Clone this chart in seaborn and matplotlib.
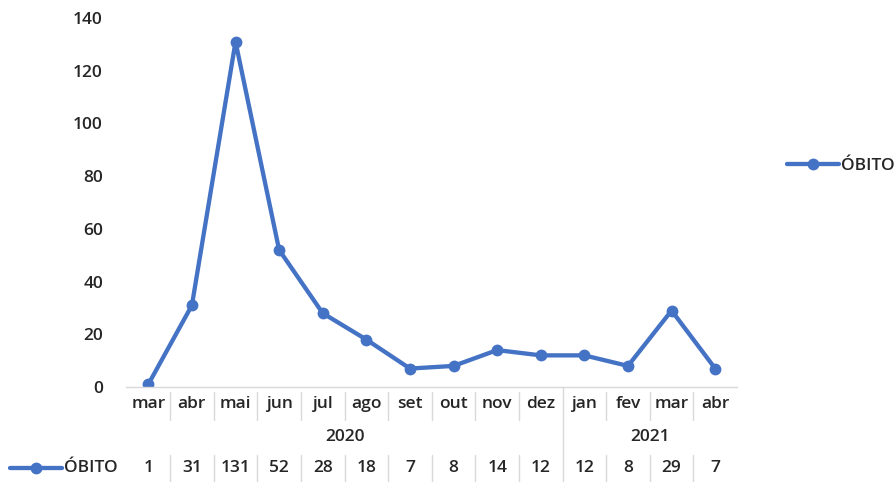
import numpy as np
import pandas as pd
import matplotlib
matplotlib.use("Agg")
import matplotlib.pyplot as plt
import matplotlib.transforms as mtransforms
from matplotlib.lines import Line2D
import seaborn as sns

# data
months = ["mar", "abr", "mai", "jun", "jul", "ago", "set", "out", "nov", "dez",
          "jan", "fev", "mar", "abr"]
years = ["2020", "2021"]
year_counts = [10, 4]
obitos = [1, 31, 131, 52, 28, 18, 7, 8, 14, 12, 12, 8, 29, 7]
series_name = "ÓBITO"

sns.set_theme(style="white")
plt.rcParams["font.family"] = ["Open Sans", "DejaVu Sans"]
plt.rcParams["font.weight"] = "semibold"

blue = "#4472C4"
grid_gray = "#D9D9D9"
fs = 12.5
W, H = 895, 482

df = pd.DataFrame({"idx": np.arange(len(months)), "val": obitos})

fig = plt.figure(figsize=(W / 100, H / 100), dpi=100)
ax = fig.add_axes([126.5 / W, 1 - 387 / H, (737 - 126.5) / W, (387 - 18) / H])

sns.lineplot(data=df, x="idx", y="val", ax=ax, color=blue, linewidth=3.1,
             marker="o", markersize=8.5, markeredgewidth=0, label=series_name)

ax.set_xlim(-0.5, len(months) - 0.5)
ax.set_ylim(0, 140)
ax.set_yticks(range(0, 141, 20))
ax.tick_params(axis="y", length=0, pad=17, labelsize=fs)
ax.set_xticks([])
ax.set_xlabel("")
ax.set_ylabel("")
for s in ["top", "right", "left"]:
    ax.spines[s].set_visible(False)
ax.spines["bottom"].set_color(grid_gray)
ax.spines["bottom"].set_linewidth(1)

# legend on the right
ax.legend(loc="center left", bbox_to_anchor=(780 / W, 1 - 166 / H),
          bbox_transform=fig.transFigure, frameon=False, fontsize=fs,
          handlelength=3.0, handletextpad=0.1, borderaxespad=0)

# data table below the axis
trans = mtransforms.blended_transform_factory(ax.transData, fig.transFigure)
fy = lambda py: 1 - py / H

for i, (m, v) in enumerate(zip(months, obitos)):
    ax.text(i, fy(404), m, transform=trans, ha="center", va="center", fontsize=fs)
    ax.text(i, fy(468), str(v), transform=trans, ha="center", va="center", fontsize=fs)

# separators between columns
start = 0
year_bounds = np.cumsum(year_counts)
for i in range(1, len(months)):
    x = i - 0.5
    if i in year_bounds:
        ax.add_line(Line2D([x, x], [fy(387), fy(482)], transform=trans,
                           color=grid_gray, lw=1, clip_on=False))
    else:
        ax.add_line(Line2D([x, x], [fy(392), fy(420)], transform=trans,
                           color=grid_gray, lw=1, clip_on=False))
        ax.add_line(Line2D([x, x], [fy(455), fy(482)], transform=trans,
                           color=grid_gray, lw=1, clip_on=False))

# year labels
for y, n in zip(years, year_counts):
    center = start + (n - 1) / 2
    ax.text(center, fy(437), y, transform=trans, ha="center", va="center", fontsize=fs)
    start += n

# legend key inside the table
fig.add_artist(Line2D([10 / W, 62 / W], [fy(468), fy(468)], color=blue, lw=3.1))
fig.add_artist(Line2D([36 / W], [fy(468)], color=blue, marker="o", markersize=8.5,
                      markeredgewidth=0))
fig.text(64 / W, fy(468), series_name, ha="left", va="center", fontsize=fs)

fig.savefig("out.png", dpi=100)
